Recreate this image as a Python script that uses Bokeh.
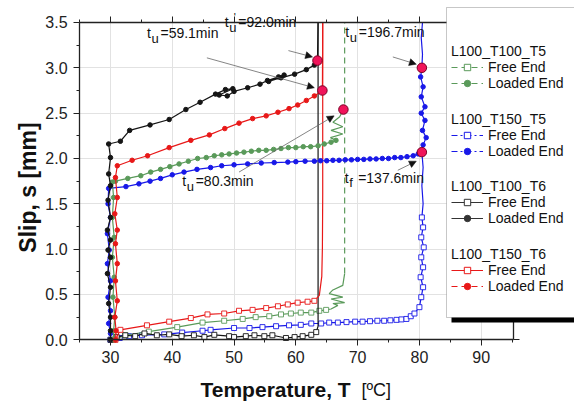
from bokeh.plotting import figure
from bokeh.models import (Range1d, LinearAxis, FixedTicker, PrintfTickFormatter, Legend,
                          LegendItem, Label, Arrow, NormalHead, BoxAnnotation)
from bokeh.embed import file_html
from bokeh.resources import INLINE

FONT = "Liberation Sans"
NAN = float("nan")

# ---------------- data (temperature T [ºC], slip s [mm]) ----------------
# L100_T100_T6 (black)
bk_le_T = [30.0, 30.0, 30.0, 29.7, 30.0, 29.5, 30.0, 29.6, 30.0, 29.5, 30.0, 29.6, 30.0, 29.7, 30.0, 29.7,
           31.6, 33.1, 36.4, 39.5, 42.2, 44.5, 47.0, 48.6, 49.8, 47.6, 48.9, 50.0, 52.2, 54.2,
           55.4, 57.2, 58.1, 55.6, 57.6, 59.8, 61.7, 63.0]
bk_le_s = [0.00, 0.10, 0.25, 0.40, 0.58, 0.73, 0.91, 0.99, 1.10, 1.21, 1.35, 1.54, 1.70, 1.83, 2.01, 2.16,
           2.19, 2.31, 2.37, 2.43, 2.54, 2.62, 2.71, 2.76, 2.77, 2.70, 2.69, 2.74, 2.78, 2.82,
           2.86, 2.90, 2.92, 2.85, 2.89, 2.93, 2.98, 3.03]
bk_le_tail_T = [63.5, 63.6]
bk_le_tail_s = [3.08, 3.50]
bk_fe_T = [30.0, 31.0, 32.4, 34.0, 35.5, 37.5, 39.5, 41.5, 43.5, 45.2, 46.8, 49.2, 50.0, 51.9, 53.3,
           54.9, 56.2, 58.4, 59.8, 61.1, 62.5, 63.3]
bk_fe_s = [0.00, 0.03, 0.05, 0.04, 0.07, 0.05, 0.06, 0.04, 0.05, 0.03, 0.055, 0.04, 0.03, 0.04, 0.05,
           0.04, 0.05, 0.02, 0.03, 0.04, 0.055, 0.085]
bk_fe_tail_T = [63.6, 63.6]
bk_fe_tail_s = [0.15, 3.50]

# L100_T150_T6 (red)
rd_le_T = [30.8, 30.9, 30.7, 31.1, 30.8, 31.1, 30.8, 31.1, 30.7, 31.1, 30.8, 31.1, 33.5, 36.0, 39.5,
           43.0, 46.0, 48.5, 50.8, 53.0, 55.2, 57.1, 58.9, 60.3, 61.7, 63.0]
rd_le_s = [0.00, 0.10, 0.25, 0.43, 0.65, 0.84, 1.06, 1.21, 1.39, 1.57, 1.79, 1.92, 1.98, 2.03, 2.12,
           2.20, 2.26, 2.33, 2.39, 2.44, 2.47, 2.51, 2.55, 2.59, 2.64, 2.69]
rd_le_tail_T = [64.3, 64.35]
rd_le_tail_s = [2.75, 3.50]
rd_fe_T = [30.8, 31.6, 35.9, 39.5, 43.0, 45.7, 48.4, 50.8, 53.0, 55.2, 57.1, 58.7, 60.3, 61.9, 63.0]
rd_fe_s = [0.00, 0.11, 0.16, 0.20, 0.24, 0.28, 0.29, 0.32, 0.33, 0.35, 0.37, 0.39, 0.41, 0.42, 0.43]
rd_fe_tail_T = [63.8, 64.2, 64.3, 64.35, 64.35]
rd_fe_tail_s = [0.49, 0.70, 1.02, 1.60, 3.50]

# L100_T100_T5 (green)
gr_le_T = [30.5, 30.5, 30.7, 30.4, 30.6, 30.3, 30.6, 30.3, 30.5, 30.3, 30.8, 32.8, 34.9, 36.5, 38.1,
           39.6, 41.1, 42.6, 44.1, 45.5, 46.8, 48.0, 49.2, 50.4, 51.6, 52.8, 54.0, 55.2, 56.4, 57.6,
           58.8, 60.0, 61.2, 62.4, 63.6, 64.6, 65.7, 66.5]
gr_le_s = [0.00, 0.10, 0.25, 0.47, 0.69, 0.91, 1.13, 1.35, 1.57, 1.74, 1.75, 1.78, 1.81, 1.85, 1.88,
           1.91, 1.94, 1.97, 2.00, 2.01, 2.03, 2.04, 2.05, 2.06, 2.07, 2.08, 2.09, 2.09, 2.10, 2.11,
           2.12, 2.12, 2.13, 2.13, 2.14, 2.16, 2.18, 2.20]
gr_le_tail_T = [65.6, 67.6, 65.7, 67.6, 66.0, 67.1, 67.7]
gr_le_tail_s = [2.23, 2.27, 2.31, 2.35, 2.40, 2.46, 2.54]
gr_fe_T = [30.5, 32.4, 36.2, 40.8, 44.9, 48.4, 51.4, 53.5, 55.7, 57.6, 59.2, 60.8, 62.5, 63.8, 64.9]
gr_fe_s = [0.00, 0.05, 0.09, 0.14, 0.19, 0.21, 0.23, 0.25, 0.26, 0.28, 0.29, 0.30, 0.30, 0.32, 0.33]
gr_fe_tail_T = [65.7, 66.8, 66.0, 67.9, 65.7, 67.6, 65.4, 66.0, 67.6, 67.9]
gr_fe_tail_s = [0.34, 0.38, 0.40, 0.41, 0.45, 0.47, 0.51, 0.55, 0.60, 0.73]
gr_up_T = [67.9, 67.9]
gr_up_s = [0.73, 3.50]

# L100_T150_T5 (blue)
bl_le_T = [30.0, 30.0, 29.7, 30.0, 29.6, 30.0, 29.5, 29.8, 29.5, 30.0, 29.6, 29.7, 32.5, 34.6, 36.4,
           38.1, 40.0, 41.9, 44.0, 46.2, 48.0, 50.0, 52.2, 54.4, 56.5, 58.7, 60.0, 61.5, 63.0, 64.0,
           65.0, 66.0, 67.0, 68.0, 69.0, 70.0, 71.0, 72.0, 73.0, 74.0, 75.0, 76.0, 77.0, 78.0, 79.0,
           79.8, 80.4, 80.6, 81.1, 80.5, 80.9, 80.3, 80.9, 80.3, 80.6, 80.2, 80.4]
bl_le_s = [0.00, 0.07, 0.18, 0.32, 0.47, 0.65, 0.84, 0.99, 1.17, 1.35, 1.50, 1.67, 1.69, 1.72, 1.75,
           1.78, 1.82, 1.85, 1.88, 1.90, 1.92, 1.93, 1.94, 1.95, 1.955, 1.96, 1.965, 1.97, 1.97, 1.975,
           1.975, 1.98, 1.98, 1.985, 1.985, 1.99, 1.99, 1.995, 1.995, 2.00, 2.00, 2.01, 2.01, 2.02, 2.03,
           2.05, 2.07, 2.15, 2.23, 2.31, 2.42, 2.50, 2.57, 2.68, 2.79, 2.90, 3.00]
bl_le_tail_T = [80.5, 80.3, 80.5]
bl_le_tail_s = [3.15, 3.33, 3.50]
bl_fe_T = [30.0, 31.5, 33.0, 35.1, 38.7, 41.6, 44.9, 46.2, 50.0, 52.5, 54.6, 56.8, 58.9, 60.8, 62.5,
           64.1, 65.4, 66.8, 68.2, 69.6, 70.8, 72.0, 73.2, 74.3, 75.3, 76.3, 77.1, 77.9, 78.6, 79.2,
           80.0, 80.3, 80.6, 80.2, 80.6, 80.3, 80.7, 80.3, 80.6, 80.4]
bl_fe_s = [0.00, 0.02, 0.04, 0.05, 0.06, 0.08, 0.10, 0.11, 0.13, 0.13, 0.14, 0.15, 0.16, 0.165, 0.18,
           0.18, 0.19, 0.19, 0.195, 0.20, 0.20, 0.205, 0.21, 0.21, 0.215, 0.22, 0.225, 0.23, 0.26, 0.29,
           0.36, 0.47, 0.58, 0.69, 0.80, 0.91, 1.02, 1.13, 1.24, 1.35]
bl_fe_tail_T = [80.6, 80.4, 80.6, 80.4]
bl_fe_tail_s = [1.50, 1.70, 1.90, 2.07]

# failure points (highlighted)
mk_T = [63.5, 64.3, 67.7, 80.4, 80.4]
mk_s = [3.08, 2.75, 2.54, 3.00, 2.07]

# annotations
ann_T = [35.9, 48.5, 68.0, 41.6, 67.9]
ann_s = [3.38, 3.50, 3.39, 1.75, 1.79]
ann_sub = ["u", "u", "u", "u", "f"]
ann_prime = [False, True, False, False, False]
ann_rest = ["=59.1min", "=92.0min", "=196.7min", "=80.3min", "=137.6min"]
arr_T0 = [45.6, 58.8, 75.7, 50.8, 76.5]
arr_s0 = [3.11, 3.19, 3.12, 1.85, 1.87]
arr_T1 = [63.0, 62.7, 79.5, 66.2, 79.5]
arr_s1 = [2.78, 3.12, 3.04, 2.47, 1.97]

x_major = [30, 40, 50, 60, 70, 80, 90]
x_minor = [25, 35, 45, 55, 65, 75, 85, 95]
y_major = [0.0, 0.5, 1.0, 1.5, 2.0, 2.5, 3.0, 3.5]
y_minor = [0.25, 0.75, 1.25, 1.75, 2.25, 2.75, 3.25]
x_lim = (25, 95.2)
y_lim = (0, 3.5)

groups = ["L100_T100_T5", "L100_T150_T5", "L100_T100_T6", "L100_T150_T6"]

GREEN, BLUE, BLACK, RED = "#5A9A5A", "#1818E8", "#151515", "#E81818"

# ---------------- figure (frame = whole canvas, axes placed at fixed locations) ----------------
W, H = 574, 403
p = figure(frame_width=W, frame_height=H, x_range=Range1d(12.195, 105.105), y_range=Range1d(-0.7026, 3.7426),
           output_backend="svg", toolbar_location=None, min_border=0,
           outline_line_color=None, background_fill_color="white", border_fill_color="white")

AX = "#222222"


def style_axis(ax, tk, mn, labels=True):
    ax.ticker = FixedTicker(ticks=tk, minor_ticks=mn)
    ax.axis_line_color = AX
    ax.axis_line_width = 1.3
    ax.major_tick_line_color = AX
    ax.minor_tick_line_color = AX
    ax.major_tick_out = 6
    ax.major_tick_in = 0
    ax.minor_tick_out = 3
    ax.minor_tick_in = 0
    ax.major_label_text_font = FONT
    ax.major_label_text_font_size = "16px"
    ax.major_label_text_color = AX
    if not labels:
        ax.major_label_overrides = {t: "" for t in tk}


xa = p.xaxis[0]
ya = p.yaxis[0]
style_axis(xa, x_major, x_minor)
style_axis(ya, y_major, y_minor)
xa.fixed_location = y_lim[0]
ya.fixed_location = x_lim[0]
xa.bounds = x_lim
ya.bounds = y_lim
xa.formatter = PrintfTickFormatter(format="%d")
ya.formatter = PrintfTickFormatter(format="%.1f")
xa.major_label_standoff = 5
ya.major_label_standoff = 6

top = LinearAxis(fixed_location=y_lim[1], bounds=x_lim)
style_axis(top, x_major, x_minor, labels=False)
p.add_layout(top, "above")
right = LinearAxis(fixed_location=x_lim[1], bounds=y_lim)
style_axis(right, y_major, y_minor, labels=False)
p.add_layout(right, "right")

p.xgrid.ticker = FixedTicker(ticks=x_major)
p.ygrid.ticker = FixedTicker(ticks=y_major)
p.xgrid.grid_line_color = "#E2E2E2"
p.ygrid.grid_line_color = "#E2E2E2"
p.xgrid.bounds = x_lim
p.xgrid.cross_bounds = y_lim
p.ygrid.bounds = y_lim
p.ygrid.cross_bounds = x_lim

LW = 1.2


def series(T, s, tT, ts, color, marker):
    p.line(T + tT, s + ts, line_color=color, line_width=LW)
    if marker == "square":
        p.scatter(T, s, marker="square", size=5, fill_color="white", line_color=color, line_width=0.9)
    else:
        p.scatter(T, s, marker="circle", size=4.5, fill_color=color, line_color=color)


series(bl_fe_T, bl_fe_s, bl_fe_tail_T, bl_fe_tail_s, BLUE, "square")
series(gr_fe_T, gr_fe_s, gr_fe_tail_T, gr_fe_tail_s, GREEN, "square")
p.line(gr_up_T, gr_up_s, line_color=GREEN, line_width=LW, line_dash="6 4")
series(bk_fe_T, bk_fe_s, bk_fe_tail_T, bk_fe_tail_s, BLACK, "square")
series(rd_fe_T, rd_fe_s, rd_fe_tail_T, rd_fe_tail_s, RED, "square")
series(bl_le_T, bl_le_s, bl_le_tail_T, bl_le_tail_s, BLUE, "circle")
series(gr_le_T, gr_le_s, gr_le_tail_T, gr_le_tail_s, GREEN, "circle")
series(bk_le_T, bk_le_s, bk_le_tail_T, bk_le_tail_s, BLACK, "circle")
series(rd_le_T, rd_le_s, rd_le_tail_T, rd_le_tail_s, RED, "circle")

p.scatter(mk_T, mk_s, marker="circle", size=9.5, fill_color="#F0145A", line_color="#7A0025", line_width=1)

# arrows and texts
for i in range(len(ann_T)):
    p.add_layout(Arrow(end=NormalHead(size=7, fill_color="#111111", line_color="#111111", line_width=0.5),
                       x_start=arr_T0[i], y_start=arr_s0[i], x_end=arr_T1[i], y_end=arr_s1[i],
                       line_color="#666666", line_width=0.8))
    p.add_layout(Label(x=ann_T[i], y=ann_s[i], text="t", text_font=FONT, text_font_size="14px",
                       text_baseline="middle", text_color="#111111"))
    p.add_layout(Label(x=ann_T[i], y=ann_s[i], x_offset=4.5, y_offset=-5, text=ann_sub[i], text_font=FONT,
                       text_font_size="13px", text_baseline="middle", text_color="#111111"))
    if ann_prime[i]:
        p.add_layout(Label(x=ann_T[i], y=ann_s[i], x_offset=9, y_offset=5, text="'", text_font=FONT,
                           text_font_size="11px", text_baseline="middle", text_color="#111111"))
    p.add_layout(Label(x=ann_T[i], y=ann_s[i], x_offset=13.5, text=ann_rest[i], text_font=FONT,
                       text_font_size="14px", text_baseline="middle", text_color="#111111"))

# ---------------- legend: shadow + box + one titled legend per specimen ----------------
p.add_layout(BoxAnnotation(left=451, right=620, top=391, bottom=81, left_units="screen", right_units="screen",
                           top_units="screen", bottom_units="screen", fill_color="black", fill_alpha=1,
                           line_color=None))
p.add_layout(BoxAnnotation(left=446, right=620, top=396, bottom=86, left_units="screen", right_units="screen",
                           top_units="screen", bottom_units="screen", fill_color="white", fill_alpha=1,
                           line_color="#444444", line_width=1))

leg_styles = [(GREEN, "6 4", "6 4"), (BLUE, "6 3 2 3", "6 3 2 3"), ("#333333", "solid", "solid"),
              (RED, "solid", "6 4")]
leg_y = [312, 244.5, 177, 109]
for g, (col, dfe, dle), ly in zip(groups, leg_styles, leg_y):
    fe_l = p.line([NAN], [NAN], line_color=col, line_width=1.2, line_dash=dfe)
    fe_m = p.scatter([NAN], [NAN], marker="square", size=5, fill_color="white", line_color=col)
    le_l = p.line([NAN], [NAN], line_color=col, line_width=1.2, line_dash=dle)
    le_m = p.scatter([NAN], [NAN], marker="circle", size=4.5, fill_color=col, line_color=col)
    leg = Legend(items=[LegendItem(label="Free End", renderers=[fe_l, fe_m]),
                        LegendItem(label="Loaded End", renderers=[le_l, le_m])],
                 location=(451, ly), title=g, title_text_font=FONT, title_text_font_size="14px",
                 title_text_font_style="normal", title_text_color="#111111", title_standoff=0,
                 background_fill_alpha=0, border_line_color=None, label_text_color="#111111",
                 glyph_width=32, glyph_height=16, label_height=16, label_standoff=5, padding=4, spacing=0,
                 margin=0, label_text_font=FONT, label_text_font_size="14px")
    p.add_layout(leg)

# axis titles
p.add_layout(Label(x=27, y=216, x_units="screen", y_units="screen", text="Slip, s [mm]", text_font=FONT,
                   text_font_size="23px", text_font_style="bold", text_align="center",
                   text_baseline="middle", angle=90, angle_units="deg", text_color="#111111"))
p.add_layout(Label(x=200, y=14, x_units="screen", y_units="screen", text="Temperature, T", text_font=FONT,
                   text_font_size="21px", text_font_style="bold", text_baseline="middle", text_color="#111111"))
p.add_layout(Label(x=361, y=14, x_units="screen", y_units="screen", text="[ºC]", text_font=FONT,
                   text_font_size="18px", text_baseline="middle", text_color="#111111"))

open("out.html", "w").write(file_html(p, INLINE))
